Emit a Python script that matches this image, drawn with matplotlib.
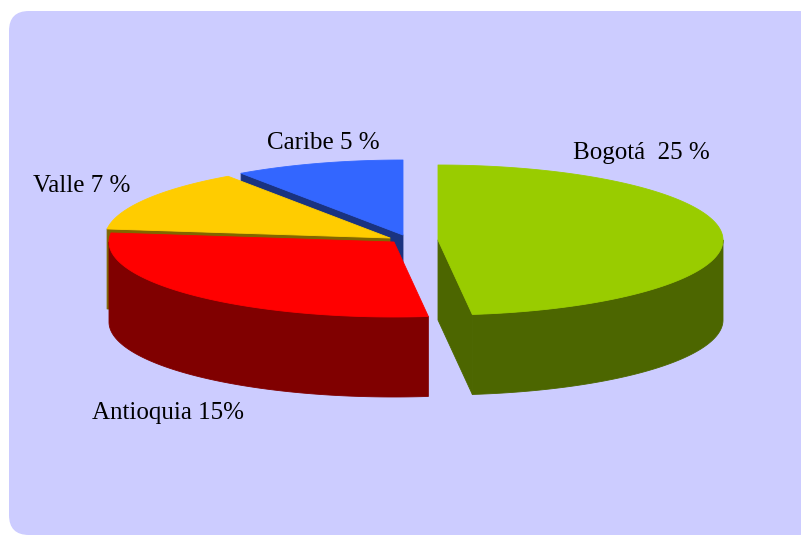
import numpy as np
import matplotlib
matplotlib.use("Agg")
import matplotlib.pyplot as plt
from matplotlib.patches import Polygon, FancyBboxPatch

# ---- data ----
categories = ["Bogotá", "Antioquia", "Valle", "Caribe"]
values = [25, 15, 7, 5]
labels = ["Bogotá  25 %", "Antioquia 15%", "Valle 7 %", "Caribe 5 %"]

# ---- style ----
top_colors = ["#99CC00", "#FF0000", "#FFCC00", "#3366FF"]
side_colors = ["#4C6600", "#800000", "#806600", "#1A3380"]
offsets = [(36, 0), (-8, 2), (-12, -2), (1, -5)]   # slice displacement (px)
label_xy = [(573, 153), (92, 413), (33, 186), (267, 143)]

W, H = 801, 536
fig = plt.figure(figsize=(W / 100, H / 100), dpi=100)
fig.patch.set_facecolor("white")
ax = fig.add_axes([0, 0, 1, 1])
ax.set_xlim(0, W)
ax.set_ylim(H, 0)
ax.axis("off")

bg = FancyBboxPatch((9, 11), 810, 524, boxstyle="round,pad=0,rounding_size=20",
                    facecolor="#CCCCFF", edgecolor="none", zorder=0)
ax.add_patch(bg)

cx0, cy0 = 402, 240
rx, ry, depth = 285, 75, 80

total = float(sum(values))
starts = []
a = 0.0
for v in values:
    starts.append(a)
    a += v / total * 360.0


def rim(cx, cy, th, dz=0.0):
    t = np.radians(th)
    return cx + rx * np.sin(t), cy - ry * np.cos(t) + dz


def arc(cx, cy, t0, t1, dz=0.0, n=120):
    th = np.linspace(t0, t1, n)
    x, y = rim(cx, cy, th, dz)
    return np.column_stack([x, y])


slices = []
for i, v in enumerate(values):
    a0 = starts[i]
    a1 = a0 + v / total * 360.0
    mid = np.radians((a0 + a1) / 2)
    cx = cx0 + offsets[i][0]
    cy = cy0 + offsets[i][1]
    slices.append((i, a0, a1, cx, cy, np.cos(mid)))

# back to front
slices.sort(key=lambda s: -s[5])

z = 1
for i, a0, a1, cx, cy, _ in slices:
    sc = side_colors[i]
    tc = top_colors[i]
    kw = dict(closed=True, linewidth=0.6, joinstyle="round")
    # outer wall (front facing part)
    lo, hi = max(a0, 90), min(a1, 270)
    if hi > lo:
        top = arc(cx, cy, lo, hi)
        bot = arc(cx, cy, lo, hi, depth)[::-1]
        ax.add_patch(Polygon(np.vstack([top, bot]), facecolor=sc, edgecolor=sc, zorder=z, **kw))
    # radial faces
    for ang, nrm in ((a0, a0 - 90), (a1, a1 + 90)):
        if np.cos(np.radians(nrm)) < -1e-3:
            px, py = rim(cx, cy, ang)
            quad = [(cx, cy), (px, py), (px, py + depth), (cx, cy + depth)]
            ax.add_patch(Polygon(quad, facecolor=sc, edgecolor=sc, zorder=z, **kw))
    # top face
    pts = np.vstack([[(cx, cy)], arc(cx, cy, a0, a1)])
    ax.add_patch(Polygon(pts, facecolor=tc, edgecolor=tc, zorder=z + 0.5, **kw))
    z += 1

for lab, (x, y) in zip(labels, label_xy):
    ax.text(x, y, lab, fontsize=18, family="Liberation Serif", color="black",
            ha="left", va="center", zorder=20)

fig.savefig("out.png", dpi=100, facecolor="white")
